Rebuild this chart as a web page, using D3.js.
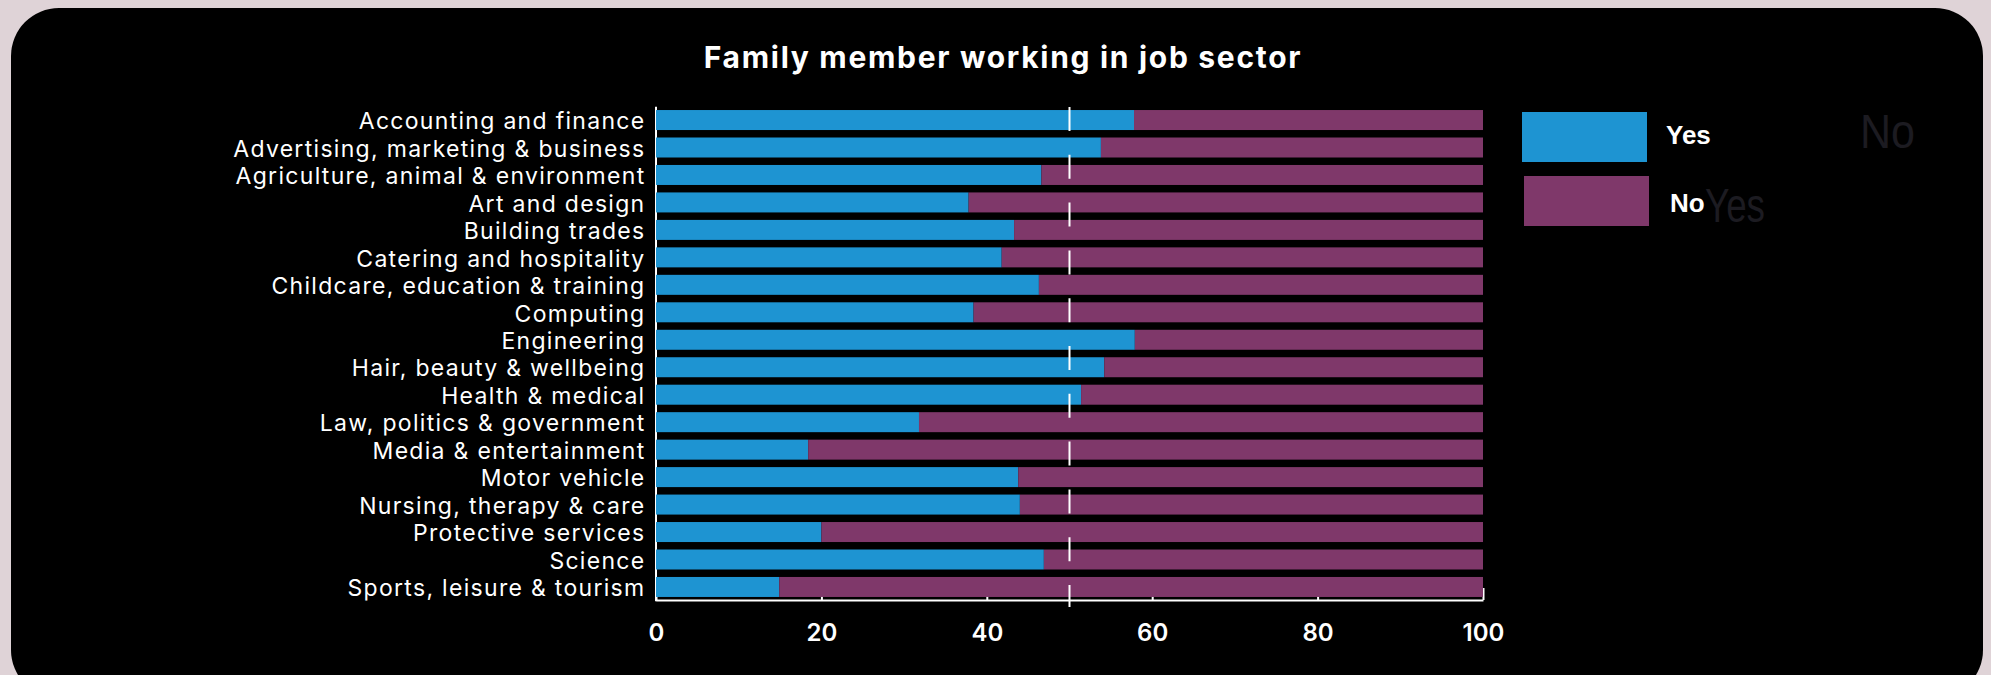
<!DOCTYPE html>
<html>
<head>
<meta charset="utf-8">
<script src="https://cdn.jsdelivr.net/npm/d3@7"></script>
<style>
  html, body { margin: 0; padding: 0; background: #dfd3d7; }
  svg { display: block; }
</style>
</head>
<body>
<svg id="chart" width="1991" height="675"></svg>
<script>
// Job sectors (top to bottom)
const sectors = [
  "Accounting and finance",
  "Advertising, marketing & business",
  "Agriculture, animal & environment",
  "Art and design",
  "Building trades",
  "Catering and hospitality",
  "Childcare, education & training",
  "Computing",
  "Engineering",
  "Hair, beauty & wellbeing",
  "Health & medical",
  "Law, politics & government",
  "Media & entertainment",
  "Motor vehicle",
  "Nursing, therapy & care",
  "Protective services",
  "Science",
  "Sports, leisure & tourism"
];

// Share of respondents (%) with a family member working in the sector
const yesShare = [57.8, 53.8, 46.6, 37.8, 43.3, 41.8, 46.3, 38.4, 57.9, 54.2, 51.4, 31.8, 18.4, 43.8, 44.0, 20.0, 46.9, 14.9];
const noShare  = [42.2, 46.2, 53.4, 62.2, 56.7, 58.2, 53.7, 61.6, 42.1, 45.8, 48.6, 68.2, 81.6, 56.2, 56.0, 80.0, 53.1, 85.1];

const seriesKeys = ["Yes", "No"];
const seriesColors = ["#1e94d2", "#7f386a"];
const xTicks = [0, 20, 40, 60, 80, 100];
const midline = 50;

const svg = d3.select("#chart");

// dark card
svg.append("rect")
  .attr("x", 11).attr("y", 8)
  .attr("width", 1972).attr("height", 690)
  .attr("rx", 48).attr("ry", 48)
  .attr("fill", "#000");

// title
svg.append("text")
  .attr("x", 1003).attr("y", 68)
  .attr("text-anchor", "middle")
  .attr("fill", "#fff")
  .style("font-family", "Inter, sans-serif")
  .style("font-weight", 700)
  .style("font-size", "30px")
  .style("letter-spacing", "1.7px")
  .text("Family member working in job sector");

const x = d3.scaleLinear().domain([0, 100]).range([656, 1483]);
const y = d3.scaleBand().domain(sectors)
  .range([106.3, 600.7])
  .paddingInner(0.272).paddingOuter(0.136);

const rows = sectors.map((s, i) => ({ sector: s, Yes: yesShare[i], No: noShare[i] }));
const stacked = d3.stack().keys(seriesKeys)(rows);
const color = d3.scaleOrdinal().domain(seriesKeys).range(seriesColors);

// x axis (ticks point up, behind bars)
const xAxis = svg.append("g")
  .attr("transform", "translate(0,600)")
  .call(d3.axisBottom(x).tickValues(xTicks).tickSize(-12).tickSizeOuter(0).tickPadding(24));
xAxis.select(".domain").attr("stroke", "#fff").attr("stroke-width", 2);
xAxis.selectAll(".tick line").attr("stroke", "#fff").attr("stroke-width", 2);
xAxis.selectAll(".tick text")
  .attr("fill", "#fff")
  .style("font-family", "Inter, sans-serif")
  .style("font-weight", 600)
  .style("font-size", "24px");

// y axis
const yAxis = svg.append("g")
  .attr("transform", "translate(655.5,0)")
  .call(d3.axisLeft(y).tickSize(0).tickPadding(10));
yAxis.select(".domain").attr("stroke", "#fff").attr("stroke-width", 2);
yAxis.selectAll(".tick text")
  .attr("fill", "#fff")
  .attr("dy", "0.4em")
  .style("font-family", "Inter, sans-serif")
  .style("font-weight", 400)
  .style("font-size", "23px")
  .style("letter-spacing", "1.3px");

// stacked bars
svg.append("g")
  .selectAll("g")
  .data(stacked)
  .join("g")
  .attr("fill", d => color(d.key))
  .selectAll("rect")
  .data(d => d)
  .join("rect")
  .attr("x", d => x(d[0]))
  .attr("y", d => y(d.data.sector))
  .attr("width", d => x(d[1]) - x(d[0]))
  .attr("height", y.bandwidth());

// dashed 50% reference line
svg.append("line")
  .attr("x1", x(midline)).attr("x2", x(midline))
  .attr("y1", 107).attr("y2", 607)
  .attr("stroke", "#fff")
  .attr("stroke-width", 2)
  .attr("stroke-dasharray", "24 23.8");

// faint background legend words
const ghost = svg.append("g")
  .attr("fill", "#1c1b21")
  .style("font-family", "'Liberation Sans', Arial, sans-serif")
  .style("font-size", "48px");
ghost.append("text").attr("x", 1860).attr("y", 148)
  .attr("textLength", 55).attr("lengthAdjust", "spacingAndGlyphs").text("No");
ghost.append("text").attr("x", 1705).attr("y", 222)
  .attr("textLength", 60).attr("lengthAdjust", "spacingAndGlyphs").text("Yes");

// legend
const legendPos = [{ x: 1522, y: 112, tx: 1666, ty: 144 }, { x: 1524, y: 176, tx: 1670, ty: 212 }];
const legend = svg.append("g")
  .selectAll("g")
  .data(seriesKeys)
  .join("g");
legend.append("rect")
  .attr("x", (d, i) => legendPos[i].x)
  .attr("y", (d, i) => legendPos[i].y)
  .attr("width", 125).attr("height", 50)
  .attr("fill", d => color(d));
legend.append("text")
  .attr("x", (d, i) => legendPos[i].tx)
  .attr("y", (d, i) => legendPos[i].ty)
  .attr("fill", "#fff")
  .style("font-family", "'Liberation Sans', Arial, sans-serif")
  .style("font-weight", 700)
  .style("font-size", "26px")
  .text(d => d);
</script>
</body>
</html>
